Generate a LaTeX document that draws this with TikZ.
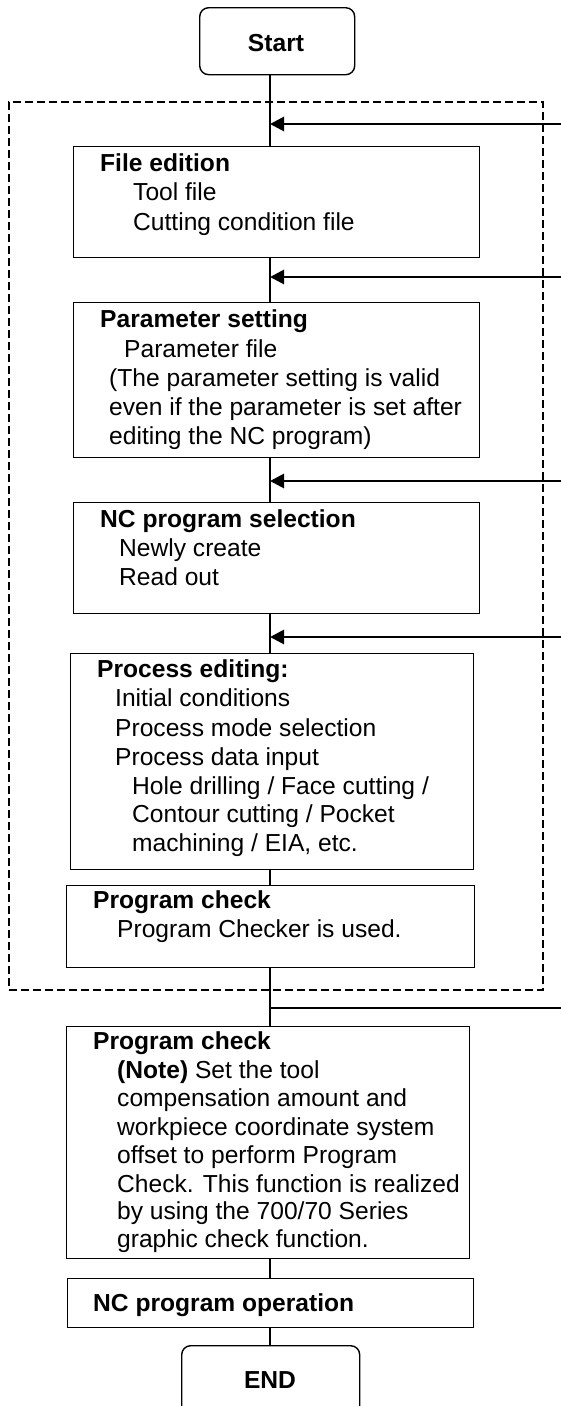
\documentclass[tikz,border=0pt]{standalone}
\usepackage{fontspec}
\setmainfont{Liberation Sans}
\usetikzlibrary{arrows.meta}
\begin{document}
\begin{tikzpicture}[x=1pt,y=-1pt,
  box/.style={draw, line width=1.4pt, inner sep=0pt, anchor=north west},
  term/.style={box, rounded corners=9pt},
  txt/.style={anchor=base west, inner sep=0pt, font=\fontsize{24.6}{29}\selectfont},
  btxt/.style={txt, font=\fontsize{24.6}{29}\selectfont\bfseries},
  flow/.style={line width=1.4pt},
  back/.style={line width=2.8pt, -{Triangle[length=14pt,width=14pt]}},
  grp/.style={draw, dash pattern=on 8pt off 4pt, line width=2pt, inner sep=0pt, anchor=north west}
]
\useasboundingbox (0,0) rectangle (561,1406);
\clip (0,0) rectangle (561,1406);

% boxes
\node[term, minimum width=155pt, minimum height=67pt] (start) at (199,7) {};
\node[grp, minimum width=534pt, minimum height=888pt] (group) at (8,101) {};
\node[box, minimum width=406pt, minimum height=111pt] (fe) at (73,146) {};
\node[box, minimum width=406pt, minimum height=155pt] (ps) at (73,302) {};
\node[box, minimum width=406pt, minimum height=111pt] (ns) at (73,502) {};
\node[box, minimum width=403pt, minimum height=216pt] (pe) at (70,653) {};
\node[box, minimum width=408pt, minimum height=82pt] (pc1) at (66,885) {};
\node[box, minimum width=403pt, minimum height=232pt] (pc2) at (66,1026) {};
\node[box, minimum width=406pt, minimum height=49pt] (op) at (67,1278) {};
\node[term, minimum width=178pt, minimum height=75pt] (end) at (181,1345) {};

% texts
\node[btxt, anchor=base] (tstart) at (276,51) {Start};
\node[btxt, anchor=base] (tend) at (270,1388) {END};

\node[btxt] (fe1) at (100,171) {File edition};
\node[txt] (fe2) at (133,200) {Tool file};
\node[txt] (fe3) at (133,230) {Cutting condition file};

\node[btxt] (ps1) at (100,327) {Parameter setting};
\node[txt] (ps2) at (124,357) {Parameter file};
\node[txt] (ps3) at (109,386) {(The parameter setting is valid};
\node[txt] (ps4) at (109,415) {even if the parameter is set after};
\node[txt] (ps5) at (109,444) {editing the NC program)};

\node[btxt] (ns1) at (100,527) {NC program selection};
\node[txt] (ns2) at (119,556) {Newly create};
\node[txt] (ns3) at (119,585) {Read out};

\node[btxt] (pe1) at (97,677) {Process editing:};
\node[txt] (pe2) at (115,706) {Initial conditions};
\node[txt] (pe3) at (115,736) {Process mode selection};
\node[txt] (pe4) at (115,765) {Process data input};
\node[txt] (pe5) at (132,794) {Hole drilling / Face cutting /};
\node[txt] (pe6) at (132,822) {Contour cutting / Pocket};
\node[txt] (pe7) at (132,851) {machining / EIA, etc.};

\node[btxt] (pa1) at (93,908) {Program check};
\node[txt] (pa2) at (117,937) {Program Checker is used.};

\node[btxt] (pb1) at (93,1049) {Program check};
\node[txt] (pb2) at (117,1078) {\textbf{(Note)} Set the tool};
\node[txt] (pb3) at (117,1106) {compensation amount and};
\node[txt] (pb4) at (117,1135) {workpiece coordinate system};
\node[txt] (pb5) at (117,1163) {offset to perform Program};
\node[txt] (pb6) at (117,1192) {Check. This function is realized};
\node[txt] (pb7) at (117,1219) {by using the 700/70 Series};
\node[txt] (pb8) at (117,1247) {graphic check function.};

\node[btxt] (op1) at (93,1311) {NC program operation};

% junctions
\coordinate (j1) at (270,124);
\coordinate (j2) at (270,277);
\coordinate (j3) at (270,481);
\coordinate (j4) at (270,637);
\coordinate (jb) at (270,1008);
\coordinate (r1) at (561,124);
\coordinate (r2) at (561,277);
\coordinate (r3) at (561,481);
\coordinate (r4) at (561,637);
\coordinate (rb) at (561,1008);

% main flow
\draw[flow] (start.south -| j1) -- (fe.north -| j1);
\draw[flow] (fe.south -| j1) -- (ps.north -| j1);
\draw[flow] (ps.south -| j1) -- (ns.north -| j1);
\draw[flow] (ns.south -| j1) -- (pe.north -| j1);
\draw[flow] (pe.south -| j1) -- (pc1.north -| j1);
\draw[flow] (pc1.south -| j1) -- (pc2.north -| j1);
\draw[flow] (pc2.south -| j1) -- (op.north -| j1);
\draw[flow] (op.south -| j1) -- (end.north -| j1);

% return arrows
\draw[back] (r1) -- (j1);
\draw[back] (r2) -- (j2);
\draw[back] (r3) -- (j3);
\draw[back] (r4) -- (j4);
\draw[flow] (jb) -- (rb);
\end{tikzpicture}
\end{document}
